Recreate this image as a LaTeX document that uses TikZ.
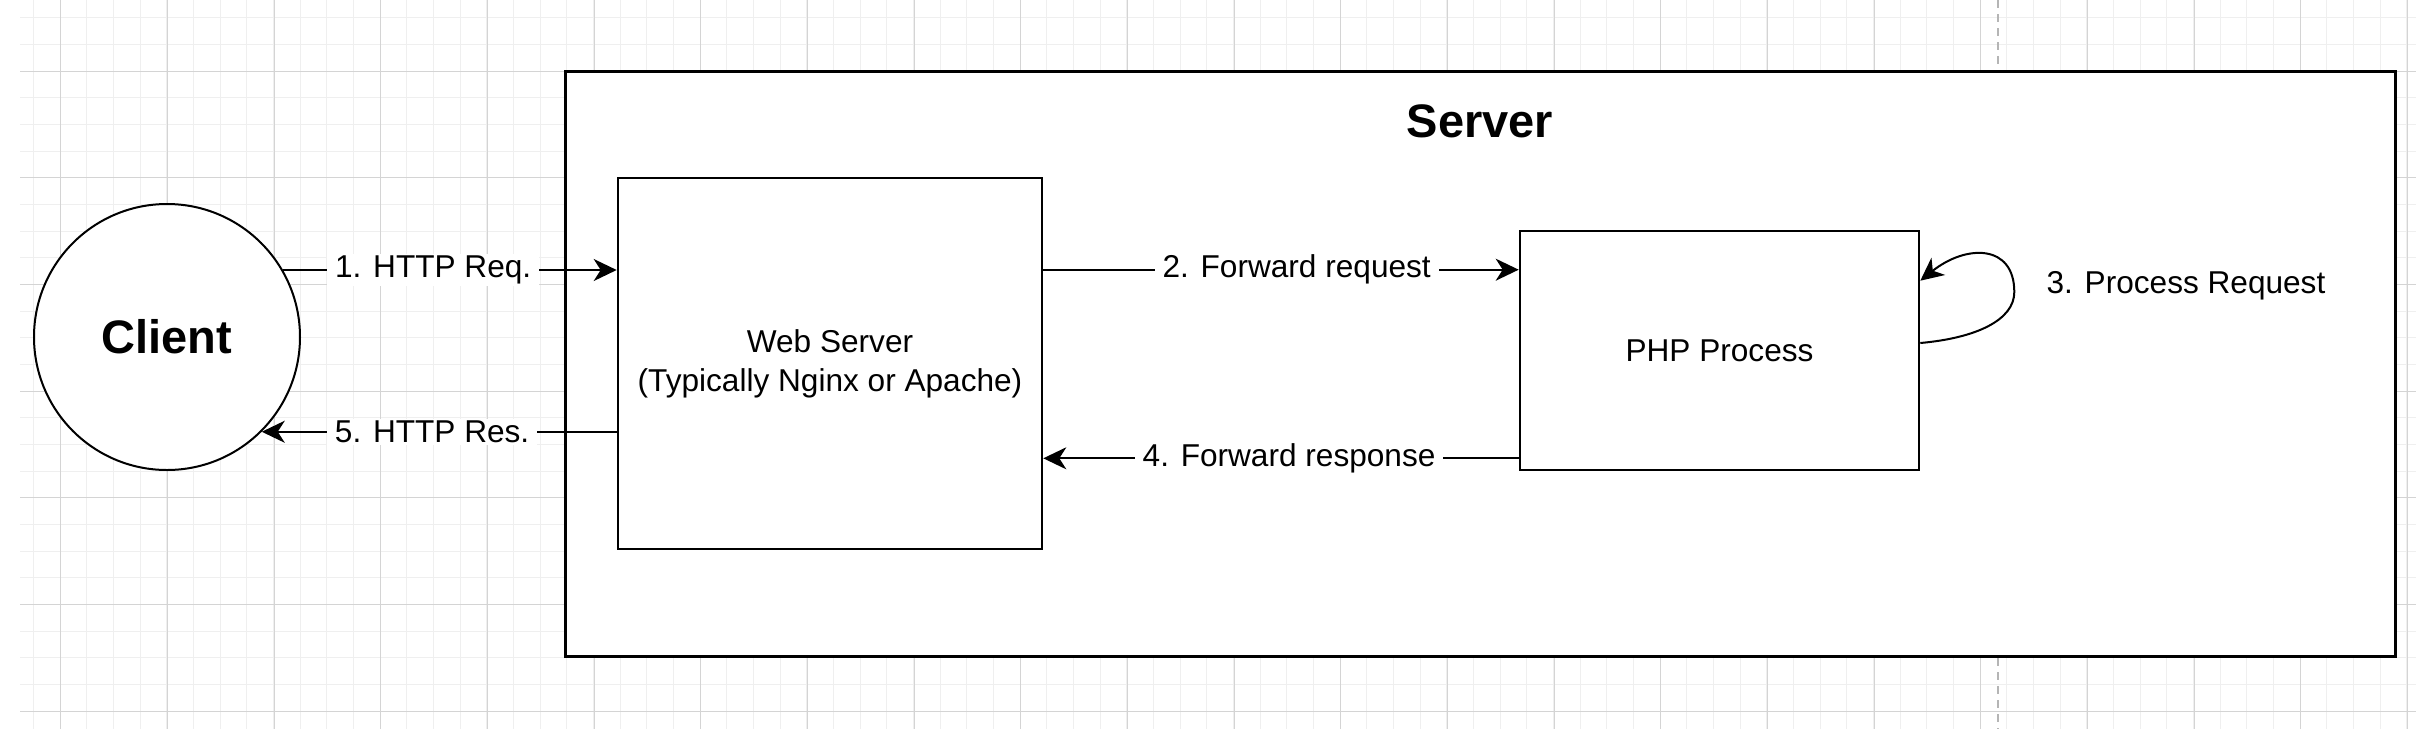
\documentclass[tikz,border=0pt]{standalone}
\usepackage{fontspec}
\setmainfont{Liberation Sans}
\usetikzlibrary{arrows.meta,calc}
\definecolor{gridminor}{HTML}{EFEFEF}
\definecolor{gridmajor}{HTML}{D4D4D4}
\definecolor{pageline}{HTML}{B5B5B5}
\begin{document}
\begin{tikzpicture}[x=0.5pt,y=-0.5pt,
  box/.style={draw=black,line width=1.3pt,fill=white,inner sep=0pt,align=center,font=\fontsize{15.8}{19.5}\selectfont},
  arr/.style={draw=black,line width=1pt,-{Stealth[length=11.5pt,width=11pt,inset=3.5pt]}},
  lbl/.style={fill=white,inner xsep=4pt,inner ysep=1pt,font=\fontsize{15.8}{19.5}\selectfont},
  plain/.style={inner sep=2pt,font=\fontsize{15.8}{19.5}\selectfont},
  titlefont/.style={font=\fontsize{23.5}{28}\selectfont\bfseries}]
\useasboundingbox (0,0) rectangle (2416,729);
\fill[white] (0,0) rectangle (2416,729);
% grid
\foreach \i in {1,...,90} \draw[gridminor,line width=0.5pt] ({6.667+26.667*\i},0) -- ({6.667+26.667*\i},729);
\foreach \j in {0,...,26} \draw[gridminor,line width=0.5pt] (20,{17.667+26.667*\j}) -- (2416,{17.667+26.667*\j});
\foreach \k in {0,...,22} \draw[gridmajor,line width=0.5pt] ({60.667+106.667*\k},0) -- ({60.667+106.667*\k},729);
\foreach \k in {0,...,6} \draw[gridmajor,line width=0.5pt] (20,{71+106.667*\k}) -- (2416,{71+106.667*\k});
\draw[pageline,line width=1pt,dash pattern=on 4pt off 3pt] (1998,0) -- (1998,729);
% nodes
\node[box,line width=1.5pt,minimum width=915pt,minimum height=292.5pt] (server) at (1480,363.5) {};
\node[titlefont] (title) at ($(server.north)+(0,52)$) {Server};
\node[draw=black,line width=1pt,fill=white,circle,minimum size=133pt,inner sep=0pt,titlefont] (client) at (167,337) {Client};
\node[box,minimum width=212pt,minimum height=185.5pt] (web) at (830,363.5) {Web Server\\(Typically Nginx or Apache)};
\node[box,minimum width=199.5pt,minimum height=119.5pt] (php) at (1719.5,350.5) {PHP Process};
% connectors
\coordinate (s2) at ($(web.north east)+(0,93)$);
\coordinate (s4) at ($(php.south west)+(0,-13)$);
\coordinate (l3a) at ($(php.east)+(0,-7.5)$);
\coordinate (l3b) at ($(php.north east)+(0,51)$);
\draw[arr] (client.30) -- node[lbl,pos=0.45] {1. HTTP Req.} (client.30 -| web.west);
\draw[arr] (s2) -- node[lbl,pos=0.533] {2. Forward request} (s2 -| php.west);
\draw[arr] (s4) -- node[lbl,pos=0.483] {4. Forward response} (s4 -| web.east);
\draw[arr] (client.-45 -| web.west) -- node[lbl,pos=0.52] {5. HTTP Res.} (client.-45);
\draw[arr] (l3a) .. controls ($(l3a)+(56,-5)$) and ($(l3a)+(94,-23)$) .. ($(l3a)+(94,-51)$)
  .. controls ($(l3a)+(94,-99)$) and ($(l3a)+(46,-99)$) .. (l3b);
\node[plain] (lbl3) at (2186,286) {3. Process Request};
\end{tikzpicture}
\end{document}
